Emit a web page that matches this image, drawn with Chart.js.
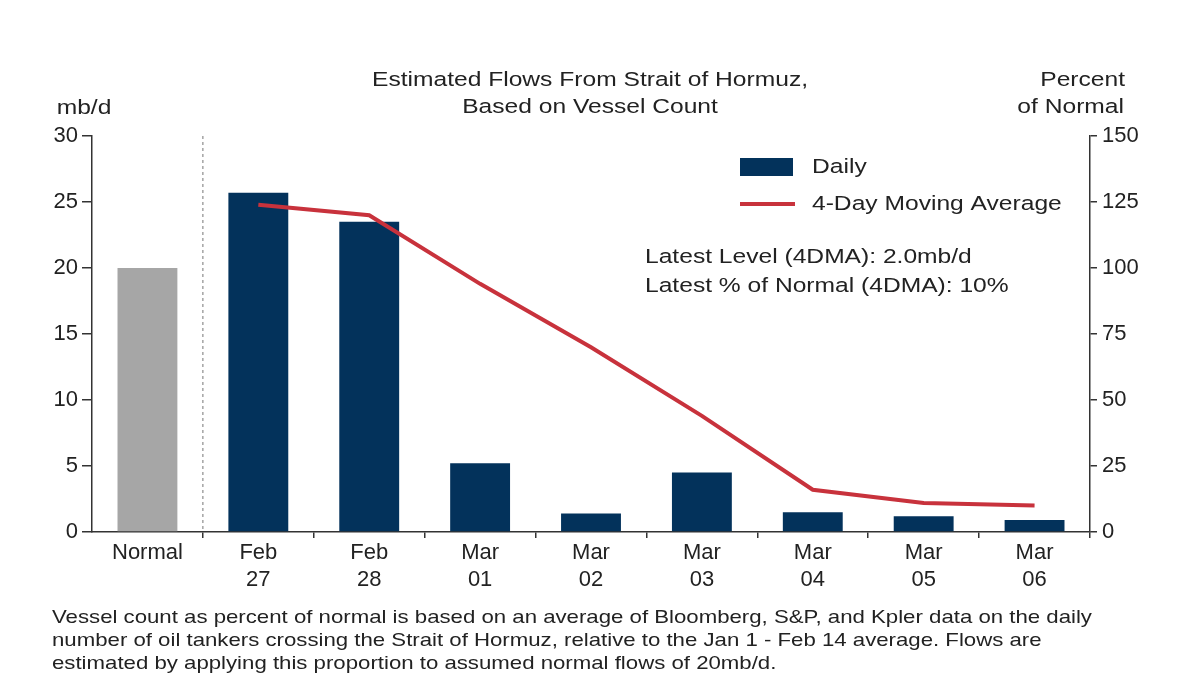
<!DOCTYPE html>
<html>
<head>
<meta charset="UTF-8">
<title>Strait of Hormuz flows</title>
<script src="https://cdn.jsdelivr.net/npm/chart.js@4/dist/chart.umd.min.js"></script>
<style>
  body { margin: 0; background: #fff; }
  canvas { display: block; }
</style>
</head>
<body>
<canvas id="hormuz" width="1200" height="700"></canvas>
<script>
// values
const categories = [['Normal'], ['Feb', '27'], ['Feb', '28'], ['Mar', '01'], ['Mar', '02'],
                    ['Mar', '03'], ['Mar', '04'], ['Mar', '05'], ['Mar', '06']];
const normalFlow = [20, null, null, null, null, null, null, null, null];
const dailyFlow = [null, 25.7, 23.5, 5.2, 1.4, 4.5, 1.5, 1.2, 0.9];
const movingAvgPct = [null, 124, 120, 94, 70, 44, 16, 11, 10];
const leftTicks = [0, 5, 10, 15, 20, 25, 30];
const rightTicks = [0, 25, 50, 75, 100, 125, 150];

const FONT = '"Liberation Sans", Arial, sans-serif';
const NAVY = '#03325b';
const RED = '#c8323c';
const GREY = '#a6a6a6';
const INK = '#222';
const STRETCH = 1.2; // the source text is a bit wider than plain Arial

// text drawn a little wider than the font, like the source
function wideText(ctx, str, x, y, align) {
  ctx.save();
  ctx.translate(x, y);
  ctx.scale(STRETCH, 1);
  ctx.textAlign = align;
  ctx.fillText(str, 0, 0);
  ctx.restore();
}

const textPlugin = {
  id: 'texts',
  beforeDatasetsDraw(chart) {
    // dashed separator between "Normal" and the daily bars
    const ctx = chart.ctx, x = chart.scales.x, area = chart.chartArea;
    const sx = (x.getPixelForValue(0) + x.getPixelForValue(1)) / 2;
    ctx.save();
    ctx.strokeStyle = '#777';
    ctx.lineWidth = 1;
    ctx.setLineDash([3, 3]);
    ctx.beginPath();
    ctx.moveTo(sx, area.top);
    ctx.lineTo(sx, area.bottom);
    ctx.stroke();
    ctx.restore();
  },
  afterDraw(chart) {
    const ctx = chart.ctx;
    ctx.save();
    ctx.fillStyle = INK;
    ctx.textBaseline = 'middle';
    ctx.font = '20.5px ' + FONT;

    wideText(ctx, 'Estimated Flows From Strait of Hormuz,', 590, 80, 'center');
    wideText(ctx, 'Based on Vessel Count', 590, 107, 'center');
    wideText(ctx, 'mb/d', 84, 108, 'center');
    wideText(ctx, 'Percent', 1125, 80, 'right');
    wideText(ctx, 'of Normal', 1124, 107, 'right');

    // legend
    ctx.fillStyle = NAVY;
    ctx.fillRect(740, 158, 53, 18);
    ctx.strokeStyle = RED;
    ctx.lineWidth = 4;
    ctx.beginPath();
    ctx.moveTo(740, 204);
    ctx.lineTo(795, 204);
    ctx.stroke();
    ctx.fillStyle = INK;
    wideText(ctx, 'Daily', 812, 167, 'left');
    wideText(ctx, '4-Day Moving Average', 812, 204, 'left');

    // annotation
    wideText(ctx, 'Latest Level (4DMA): 2.0mb/d', 645, 257, 'left');
    wideText(ctx, 'Latest % of Normal (4DMA): 10%', 645, 286, 'left');

    // footnote
    ctx.font = '18.5px ' + FONT;
    wideText(ctx, 'Vessel count as percent of normal is based on an average of Bloomberg, S&P, and Kpler data on the daily', 52, 618, 'left');
    wideText(ctx, 'number of oil tankers crossing the Strait of Hormuz, relative to the Jan 1 - Feb 14 average. Flows are', 52, 641, 'left');
    wideText(ctx, 'estimated by applying this proportion to assumed normal flows of 20mb/d.', 52, 664, 'left');
    ctx.restore();
  }
};

const ctx = document.getElementById('hormuz').getContext('2d');
new Chart(ctx, {
  type: 'bar',
  data: {
    labels: categories,
    datasets: [
      {
        type: 'line', label: '4-Day Moving Average', data: movingAvgPct, yAxisID: 'y1',
        borderColor: RED, borderWidth: 4, pointRadius: 0, tension: 0, order: 0
      },
      {
        label: 'Normal', data: normalFlow, backgroundColor: GREY, yAxisID: 'y',
        grouped: false, categoryPercentage: 1, barPercentage: 0.54, order: 1
      },
      {
        label: 'Daily', data: dailyFlow, backgroundColor: NAVY, yAxisID: 'y',
        grouped: false, categoryPercentage: 1, barPercentage: 0.54, order: 1
      }
    ]
  },
  options: {
    responsive: false,
    animation: false,
    layout: { padding: { top: 136, left: 0, right: 0, bottom: 0 } },
    plugins: { legend: { display: false }, tooltip: { enabled: false } },
    scales: {
      x: {
        offset: true,
        grid: {
          offset: true, drawOnChartArea: false, tickLength: 6, lineWidth: 1.5,
          color: (c) => (c.index === 0 || c.index === categories.length) ? 'rgba(0,0,0,0)' : '#333'
        },
        border: { color: '#333', width: 1.5 },
        ticks: { color: INK, font: { family: FONT, size: 22, lineHeight: 1.2 }, maxRotation: 0, autoSkip: false, padding: 2 },
        afterFit(s) { s.height = 168; }
      },
      y: {
        position: 'left', min: 0, max: 30,
        afterBuildTicks(s) { s.ticks = leftTicks.map(v => ({ value: v })); },
        grid: { drawOnChartArea: false, tickLength: 10, color: '#333', lineWidth: 1.5 },
        border: { color: '#333', width: 1.5 },
        ticks: { color: INK, font: { family: FONT, size: 22 }, padding: 4 },
        afterFit(s) { s.width = 92; }
      },
      y1: {
        position: 'right', min: 0, max: 150,
        afterBuildTicks(s) { s.ticks = rightTicks.map(v => ({ value: v })); },
        grid: { drawOnChartArea: false, tickLength: 7, color: '#333', lineWidth: 1.5 },
        border: { color: '#333', width: 1.5 },
        ticks: { color: INK, font: { family: FONT, size: 22 }, padding: 5 },
        afterFit(s) { s.width = 110; }
      }
    }
  },
  plugins: [textPlugin]
});
</script>
</body>
</html>
